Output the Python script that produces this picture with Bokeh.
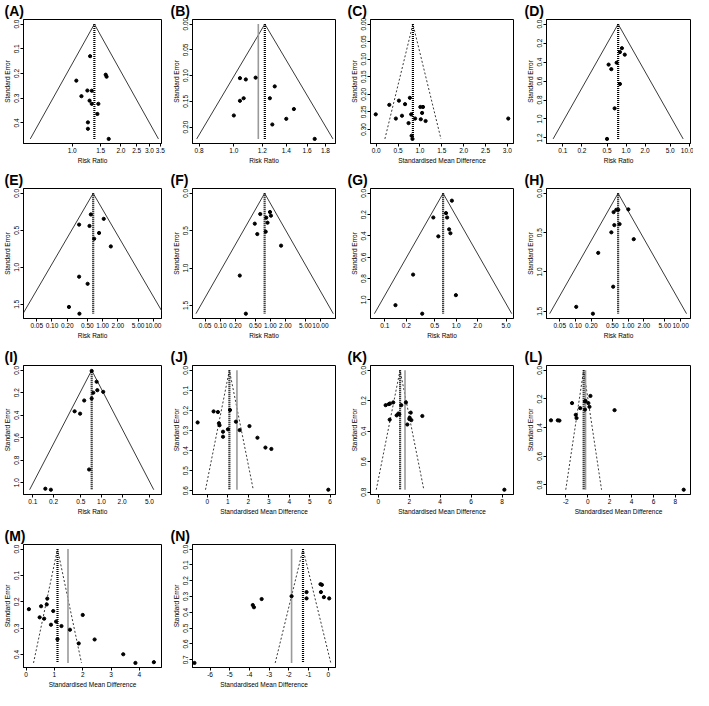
import math
from bokeh.plotting import figure
from bokeh.layouts import column, row
from bokeh.models import Range1d, FixedTicker, PrintfTickFormatter
from bokeh.embed import file_html
from bokeh.resources import INLINE

# ---------------- data ----------------
A_rr = [1.29, 1.61, 1.63, 1.06, 1.24, 1.32, 1.14, 1.28, 1.32, 1.45, 1.43, 1.25, 1.25, 1.68]
A_se = [0.130, 0.205, 0.213, 0.229, 0.269, 0.270, 0.292, 0.310, 0.323, 0.323, 0.364, 0.398, 0.424, 0.465]
A_est = 1.37

B_rr = [1.04, 1.08, 1.15, 1.30, 1.065, 1.04, 1.26, 1.47, 1.00, 1.40, 1.28, 1.68]
B_se = [0.105, 0.1075, 0.104, 0.121, 0.144, 0.149, 0.144, 0.165, 0.1775, 0.184, 0.195, 0.223]
B_est = 1.22
B_alt = 1.17

C_smd = [-0.01, 0.30, 0.52, 0.66, 0.77, 0.45, 0.59, 0.80, 0.74, 0.89, 1.01, 1.07, 1.05, 1.02, 1.13, 0.81, 0.83, 3.02]
C_se = [0.257, 0.230, 0.218, 0.228, 0.210, 0.269, 0.261, 0.257, 0.282, 0.269, 0.236, 0.236, 0.253, 0.271, 0.276, 0.318, 0.327, 0.269]
C_est = 0.84

D_rr = [0.86, 0.80, 0.955, 0.71, 0.53, 0.585, 0.80, 0.66, 0.50]
D_se = [0.254, 0.295, 0.322, 0.407, 0.427, 0.475, 0.631, 0.888, 1.21]
D_est = 0.75

E_rr = [0.585, 1.05, 0.343, 0.55, 0.85, 0.68, 1.45, 0.343, 0.505, 0.216, 0.348]
E_se = [0.286, 0.345, 0.423, 0.441, 0.536, 0.614, 0.718, 1.127, 1.223, 1.536, 1.627]
E_est = 0.65

F_rr = [0.63, 0.985, 1.03, 0.83, 0.49, 0.88, 0.55, 0.81, 1.64, 0.246, 0.325]
F_se = [0.277, 0.25, 0.299, 0.326, 0.406, 0.393, 0.545, 0.513, 0.70, 1.10, 1.61]
F_est = 0.77

G_rr = [0.87, 0.72, 0.746, 0.478, 0.796, 0.83, 0.562, 0.249, 0.99, 0.141, 0.334]
G_se = [0.069, 0.186, 0.227, 0.227, 0.338, 0.375, 0.404, 0.763, 0.956, 1.05, 1.13]
G_est = 0.655

H_rr = [0.596, 0.65, 0.53, 1.01, 0.688, 0.547, 0.48, 1.28, 0.27, 0.52, 0.103, 0.214]
H_se = [0.209, 0.209, 0.239, 0.204, 0.391, 0.404, 0.496, 0.583, 0.757, 1.187, 1.443, 1.53]
H_est = 0.645

I_rr = [0.72, 0.85, 0.87, 1.06, 0.76, 0.72, 0.56, 0.406, 0.488, 0.66, 0.152, 0.183]
I_se = [0.006, 0.102, 0.177, 0.192, 0.2, 0.251, 0.269, 0.365, 0.386, 0.883, 1.054, 1.063]
I_est = 0.72

J_smd = [-0.47, 0.31, 0.52, 0.57, 0.60, 0.77, 0.77, 1.01, 1.11, 1.40, 1.58, 2.06, 2.45, 2.84, 3.13, 5.91]
J_se = [0.26, 0.205, 0.208, 0.264, 0.274, 0.306, 0.331, 0.294, 0.198, 0.256, 0.298, 0.278, 0.336, 0.385, 0.392, 0.595]
J_est = 1.08
J_alt = 1.45

K_smd = [0.48, 0.69, 0.76, 0.97, 1.49, 1.79, 1.19, 1.30, 1.36, 0.74, 2.10, 1.88, 2.03, 2.14, 2.01, 2.85, 8.15]
K_se = [0.229, 0.222, 0.218, 0.211, 0.229, 0.211, 0.296, 0.284, 0.289, 0.324, 0.278, 0.356, 0.311, 0.327, 0.32, 0.30, 0.784]
K_est = 1.41
K_alt = 1.73

L_smd = [-3.35, -2.73, -2.58, -1.43, -1.09, -1.02, -0.68, -0.25, -0.20, -0.25, 0.06, 0.16, 0.25, 2.45, 8.76]
L_se = [0.349, 0.349, 0.351, 0.229, 0.311, 0.333, 0.264, 0.217, 0.214, 0.274, 0.229, 0.255, 0.179, 0.278, 0.833]
L_est = -0.37
L_alt = -0.20

M_smd = [0.10, 0.53, 0.75, 0.73, 0.48, 0.64, 0.96, 1.06, 0.88, 1.25, 1.11, 1.55, 2.0, 1.86, 2.42, 3.43, 3.86, 4.51]
M_se = [0.228, 0.217, 0.188, 0.21, 0.259, 0.264, 0.235, 0.275, 0.287, 0.292, 0.342, 0.306, 0.25, 0.358, 0.343, 0.399, 0.432, 0.429]
M_est = 1.11
M_alt = 1.48

N_smd = [-6.79, -3.38, -3.83, -3.77, -1.86, -1.10, -1.10, -0.39, -0.32, -0.37, -0.22, 0.05]
N_se = [0.72, 0.316, 0.354, 0.368, 0.298, 0.272, 0.312, 0.222, 0.226, 0.272, 0.304, 0.312]
N_est = -1.28
N_alt = -1.86

# tick values
RR_ticks_A = [1.0, 1.5, 2.0, 2.5, 3.0, 3.5]
RR_ticks_B = [0.8, 1.0, 1.2, 1.4, 1.6, 1.8]
RR_ticks_D = [0.1, 0.2, 0.5, 1.0, 2.0, 5.0, 10.0]
RR_ticks_E = [0.05, 0.10, 0.20, 0.50, 1.00, 2.00, 5.00, 10.00]
RR_ticks_G = [0.1, 0.2, 0.5, 1.0, 2.0, 5.0]
SMD_ticks_C = [0.0, 0.5, 1.0, 1.5, 2.0, 2.5, 3.0]
SMD_ticks_J = [0, 1, 2, 3, 4, 5, 6]
SMD_ticks_K = [0, 2, 4, 6, 8]
SMD_ticks_L = [-2, 0, 2, 4, 6, 8]
SMD_ticks_M = [0, 1, 2, 3, 4]
SMD_ticks_N = [-6, -5, -4, -3, -2, -1, 0]

SE_ticks_01 = [0.0, 0.1, 0.2, 0.3, 0.4]
SE_ticks_B = [0.00, 0.05, 0.10, 0.15, 0.20]
SE_ticks_C = [0.00, 0.05, 0.10, 0.15, 0.20, 0.25, 0.30]
SE_ticks_02 = [0.0, 0.2, 0.4, 0.6, 0.8, 1.0, 1.2]
SE_ticks_05 = [0.0, 0.5, 1.0, 1.5]
SE_ticks_J = [0.0, 0.1, 0.2, 0.3, 0.4, 0.5, 0.6]
SE_ticks_N = [0.0, 0.1, 0.2, 0.3, 0.4, 0.5, 0.6, 0.7]

RR = "Risk Ratio"
SMD = "Standardised Mean Difference"
FONT = "Liberation Sans"

COL_W = [169, 177, 177, 170]
COL_BL = [20, 23, 24, 23]
COL_BR = [8, 11, 10, 3]
ROW_H = [167, 175, 175, 173]
ROW_BT = [11, 21, 23, 27]
ROW_BB = [24, 24, 22, 20]


def panel(label, log, xs, ses, est, alt, xlim, xticks, xfmt, yticks, yfmt, xtitle, r, c, z=1.96):
    semax = max(ses)
    pad = 0.04 * semax
    p = figure(width=COL_W[c], height=ROW_H[r],
               x_axis_type="log" if log else "linear",
               x_range=Range1d(*xlim), y_range=Range1d(semax + pad, -pad),
               output_backend="svg", toolbar_location=None, title=label,
               min_border_left=COL_BL[c], min_border_right=COL_BR[c],
               min_border_top=ROW_BT[r], min_border_bottom=ROW_BB[r])
    p.title.text_font = FONT
    p.title.text_font_size = "14px"
    p.title.text_font_style = "bold"
    p.title.text_color = "black"
    p.title.offset = -COL_BL[c] + 1
    p.title.standoff = 1
    p.grid.visible = False
    p.outline_line_color = "black"
    p.outline_line_width = 1
    p.background_fill_color = "white"

    if log:
        lo, hi = est * math.exp(-z * semax), est * math.exp(z * semax)
    else:
        lo, hi = est - z * semax, est + z * semax
    fdash = "solid" if log else "2 2"
    p.line([lo, est, hi], [semax, 0, semax], line_color="#222222", line_width=0.9, line_dash=fdash)
    if alt is not None:
        p.line([alt, alt], [0, semax], line_color="#9a9a9a", line_width=1.6)
    p.line([est, est], [0, semax], line_color="black", line_width=2.2, line_dash="1 1")
    p.scatter(xs, ses, size=3.2, color="black")

    for ax, ticks, fmt, title in ((p.xaxis, xticks, xfmt, xtitle), (p.yaxis, yticks, yfmt, "Standard Error")):
        ax.ticker = FixedTicker(ticks=ticks)
        ax.formatter = PrintfTickFormatter(format=fmt)
        ax.axis_label = title
        ax.axis_label_text_font = FONT
        ax.axis_label_text_font_size = "6.5px"
        ax.axis_label_text_font_style = "normal"
        ax.axis_label_text_color = "black"
        ax.axis_label_standoff = 1
        ax.major_label_text_font = FONT
        ax.major_label_text_font_size = "6.5px"
        ax.major_label_text_color = "black"
        ax.major_label_standoff = 1
        ax.major_tick_in = 0
        ax.major_tick_out = 3
        ax.minor_tick_in = 0
        ax.minor_tick_out = 0
        ax.axis_line_color = "black"
        ax.major_tick_line_color = "black"
    p.yaxis.major_label_orientation = "vertical"
    return p


pA = panel("(A)", True, A_rr, A_se, A_est, None, (0.50, 3.56), RR_ticks_A, "%.1f", SE_ticks_01, "%.1f", RR, 0, 0)
pB = panel("(B)", True, B_rr, B_se, B_est, B_alt, (0.767, 1.92), RR_ticks_B, "%.1f", SE_ticks_B, "%.2f", RR, 0, 1)
pC = panel("(C)", False, C_smd, C_se, C_est, None, (-0.13, 3.14), SMD_ticks_C, "%.1f", SE_ticks_C, "%.2f", SMD, 0, 2)
pD = panel("(D)", True, D_rr, D_se, D_est, None, (0.055, 10.5), RR_ticks_D, "%.1f", SE_ticks_02, "%.1f", RR, 0, 3)
pE = panel("(E)", True, E_rr, E_se, E_est, None, (0.0274, 14.5), RR_ticks_E, "%.2f", SE_ticks_05, "%.1f", RR, 1, 0)
pF = panel("(F)", True, F_rr, F_se, F_est, None, (0.028, 20.0), RR_ticks_E, "%.2f", SE_ticks_05, "%.1f", RR, 1, 1)
pG = panel("(G)", True, G_rr, G_se, G_est, None, (0.063, 6.35), RR_ticks_G, "%.1f", SE_ticks_02, "%.1f", RR, 1, 2)
pH = panel("(H)", True, H_rr, H_se, H_est, None, (0.028, 15.4), RR_ticks_E, "%.2f", SE_ticks_05, "%.1f", RR, 1, 3)
pI = panel("(I)", True, I_rr, I_se, I_est, None, (0.073, 7.5), RR_ticks_G, "%.1f", SE_ticks_02, "%.1f", RR, 2, 0)
pJ = panel("(J)", False, J_smd, J_se, J_est, J_alt, (-0.72, 6.26), SMD_ticks_J, "%d", SE_ticks_J, "%.1f", SMD, 2, 1)
pK = panel("(K)", False, K_smd, K_se, K_est, K_alt, (-0.5, 8.74), SMD_ticks_K, "%d", SE_ticks_02, "%.1f", SMD, 2, 2)
pL = panel("(L)", False, L_smd, L_se, L_est, L_alt, (-3.76, 9.38), SMD_ticks_L, "%d", SE_ticks_02, "%.1f", SMD, 2, 3)
pM = panel("(M)", False, M_smd, M_se, M_est, M_alt, (-0.09, 4.78), SMD_ticks_M, "%d", SE_ticks_01, "%.1f", SMD, 3, 0)
pN = panel("(N)", False, N_smd, N_se, N_est, N_alt, (-6.89, 0.37), SMD_ticks_N, "%d", SE_ticks_N, "%.1f", SMD, 3, 1)

p = column(row(pA, pB, pC, pD), row(pE, pF, pG, pH), row(pI, pJ, pK, pL), row(pM, pN))

open("out.html", "w").write(file_html(p, INLINE))
